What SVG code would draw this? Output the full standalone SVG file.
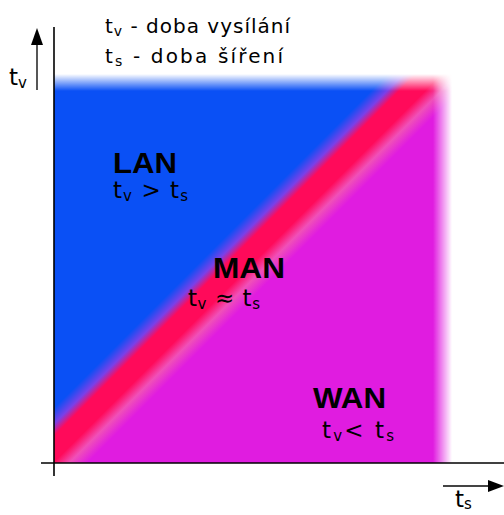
<svg xmlns="http://www.w3.org/2000/svg" width="504" height="515" viewBox="0 0 504 515">
<style>
.t{font-family:"DejaVu Sans","Liberation Sans",Arial,sans-serif;fill:#000}
.lbl{font-size:20px}
.big{font-family:"Liberation Sans",Arial,sans-serif;font-size:29px;font-weight:bold}
.rel{font-size:23px}
.ax{stroke:#000;stroke-width:1.6;fill:none}
</style>
<defs>
<linearGradient id="band" gradientUnits="userSpaceOnUse" x1="200" y1="200" x2="300" y2="300">
<stop offset="0" stop-color="#0a50f5"/>
<stop offset="0.31" stop-color="#0a50f5"/>
<stop offset="0.39" stop-color="#7a40e8"/>
<stop offset="0.45" stop-color="#ff0a5a"/>
<stop offset="0.58" stop-color="#ff0a5a"/>
<stop offset="0.66" stop-color="#f050b8"/>
<stop offset="0.75" stop-color="#e01ce0"/>
<stop offset="1" stop-color="#e01ce0"/>
</linearGradient>
<linearGradient id="vfade" gradientUnits="userSpaceOnUse" x1="0" y1="74" x2="0" y2="91">
<stop offset="0" stop-color="#fff" stop-opacity="0"/>
<stop offset="1" stop-color="#fff" stop-opacity="1"/>
</linearGradient>
<linearGradient id="hfade" gradientUnits="userSpaceOnUse" x1="433" y1="0" x2="452" y2="0">
<stop offset="0" stop-color="#fff" stop-opacity="1"/>
<stop offset="1" stop-color="#fff" stop-opacity="0"/>
</linearGradient>
<mask id="mv" maskUnits="userSpaceOnUse" x="0" y="0" width="504" height="515">
<rect x="0" y="74" width="504" height="400" fill="url(#vfade)"/>
</mask>
<mask id="mh" maskUnits="userSpaceOnUse" x="0" y="0" width="504" height="515">
<rect x="0" y="0" width="452" height="515" fill="url(#hfade)"/>
</mask>
</defs>

<g id="regions" mask="url(#mh)">
<g mask="url(#mv)">
<rect x="54" y="74" width="400" height="389" fill="url(#band)"/>
</g>
</g>

<g id="connectors">
<line class="ax" x1="54" y1="27" x2="54" y2="476"/>
<line class="ax" x1="41" y1="463" x2="504" y2="463"/>
<g id="arrow-tv">
<line x1="37" y1="90" x2="37" y2="44" stroke="#444" stroke-width="1.8"/>
<path d="M31,45 L37,28 L43,45 Z" fill="#000"/>
</g>
<g id="arrow-ts">
<line x1="443" y1="486" x2="490" y2="486" stroke="#444" stroke-width="1.8"/>
<path d="M488,480 L504,486 L488,492 Z" fill="#000"/>
</g>
</g>

<g id="legend">
<text class="t lbl" x="105" y="33" textLength="185" lengthAdjust="spacing">t<tspan font-size="14" dy="3">v</tspan><tspan dy="-3"> - doba vysílání</tspan></text>
<text class="t lbl" x="105" y="63" textLength="178" lengthAdjust="spacing">t<tspan font-size="14" dy="3">s</tspan><tspan dy="-3"> - doba šíření</tspan></text>
</g>

<g id="axis-label-tv">
<text class="t rel" x="9" y="85">t<tspan font-size="15" dy="3">v</tspan></text>
</g>
<g id="axis-label-ts">
<text class="t rel" x="455" y="507">t<tspan font-size="15" dy="2">s</tspan></text>
</g>

<g id="node-lan">
<text class="t big" x="113" y="173" textLength="64" lengthAdjust="spacingAndGlyphs">LAN</text>
<text class="t rel" x="113" y="198" textLength="75" lengthAdjust="spacing">t<tspan font-size="15" dy="3">v</tspan><tspan dy="-3"> &gt; t</tspan><tspan font-size="15" dy="3">s</tspan></text>
</g>
<g id="node-man">
<text class="t big" x="213" y="278" textLength="72" lengthAdjust="spacingAndGlyphs">MAN</text>
<text class="t rel" x="188" y="306" textLength="72" lengthAdjust="spacing">t<tspan font-size="15" dy="3">v</tspan><tspan dy="-3"> ≈ t</tspan><tspan font-size="15" dy="3">s</tspan></text>
</g>
<g id="node-wan">
<text class="t big" x="313" y="408" textLength="73" lengthAdjust="spacingAndGlyphs">WAN</text>
<text class="t rel" x="322" y="438" textLength="72" lengthAdjust="spacing">t<tspan font-size="15" dy="3">v</tspan><tspan dy="-3">&lt; t</tspan><tspan font-size="15" dy="3">s</tspan></text>
</g>
</svg>
